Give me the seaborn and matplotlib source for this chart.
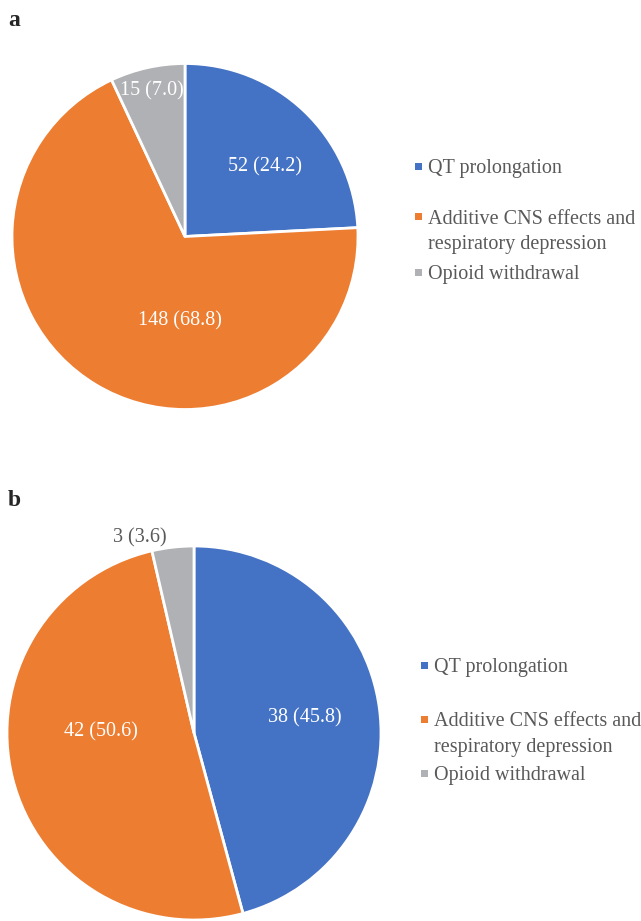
import matplotlib
matplotlib.use("Agg")
import matplotlib.pyplot as plt
from matplotlib.patches import Rectangle
import seaborn as sns

# Data
categories = ["QT prolongation", "Additive CNS effects and\nrespiratory depression", "Opioid withdrawal"]
counts_a = [52, 148, 15]
pct_a = [24.2, 68.8, 7.0]
counts_b = [38, 42, 3]
pct_b = [45.8, 50.6, 3.6]

sns.set_theme(style="white")
plt.rcParams['font.family'] = ['Liberation Serif', 'DejaVu Serif']
colors = sns.color_palette(["#4472C4", "#ED7D31", "#B0B1B4"])
text_gray = "#595959"

W, H = 641, 921
fig = plt.figure(figsize=(W / 100, H / 100), dpi=100)

# label positions in pie units (radius = 1)
lab_pos_a = [(0.46, 0.40), (-0.03, -0.485), (-0.19, 0.84)]
lab_col_a = ["white", "white", "white"]
lab_pos_b = [(0.59, 0.08), (-0.50, 0.005), (-0.29, 1.045)]
lab_col_b = ["white", "white", text_gray]


def draw_legend(x_marker, ys):
    # manual legend, Excel-like: marker aligned with first line of each entry
    for lab, col, y in zip(categories, colors, ys):
        fig.patches.append(Rectangle((x_marker / W, 1 - (y + 3.5) / H), 7 / W, 7 / H,
                                     transform=fig.transFigure, facecolor=col, edgecolor="none"))
        for i, line in enumerate(lab.split("\n")):
            fig.text((x_marker + 13) / W, 1 - (y + 2 + 26 * i) / H, line, fontsize=14.5,
                     color=text_gray, ha="left", va="center")


def draw_pie(rect, counts, pcts, lab_pos, lab_col):
    ax = fig.add_axes(rect)
    ax.pie(counts, colors=colors, startangle=90, counterclock=False,
           wedgeprops=dict(edgecolor="white", linewidth=2))
    for c, p, (x, y), col in zip(counts, pcts, lab_pos, lab_col):
        ax.text(x, y, f"{c} ({p:.1f})", ha="center", va="center", color=col, fontsize=14.5)
    ax.set_xlim(-1, 1)
    ax.set_ylim(-1, 1)
    ax.set_aspect("equal")
    ax.axis("off")
    return ax


draw_pie([12 / W, (H - 410) / H, 346 / W, 347 / H], counts_a, pct_a, lab_pos_a, lab_col_a)
draw_legend(415, [167, 217, 273])

draw_pie([7 / W, (H - 920) / H, 374 / W, 374 / H], counts_b, pct_b, lab_pos_b, lab_col_b)
draw_legend(421, [665, 719, 773])

fig.text(8 / W, 1 - 20 / H, "a", fontsize=17, fontweight="bold", va="center", ha="left")
fig.text(8 / W, 1 - 500 / H, "b", fontsize=17, fontweight="bold", va="center", ha="left")

fig.savefig("out.png", dpi=100)
